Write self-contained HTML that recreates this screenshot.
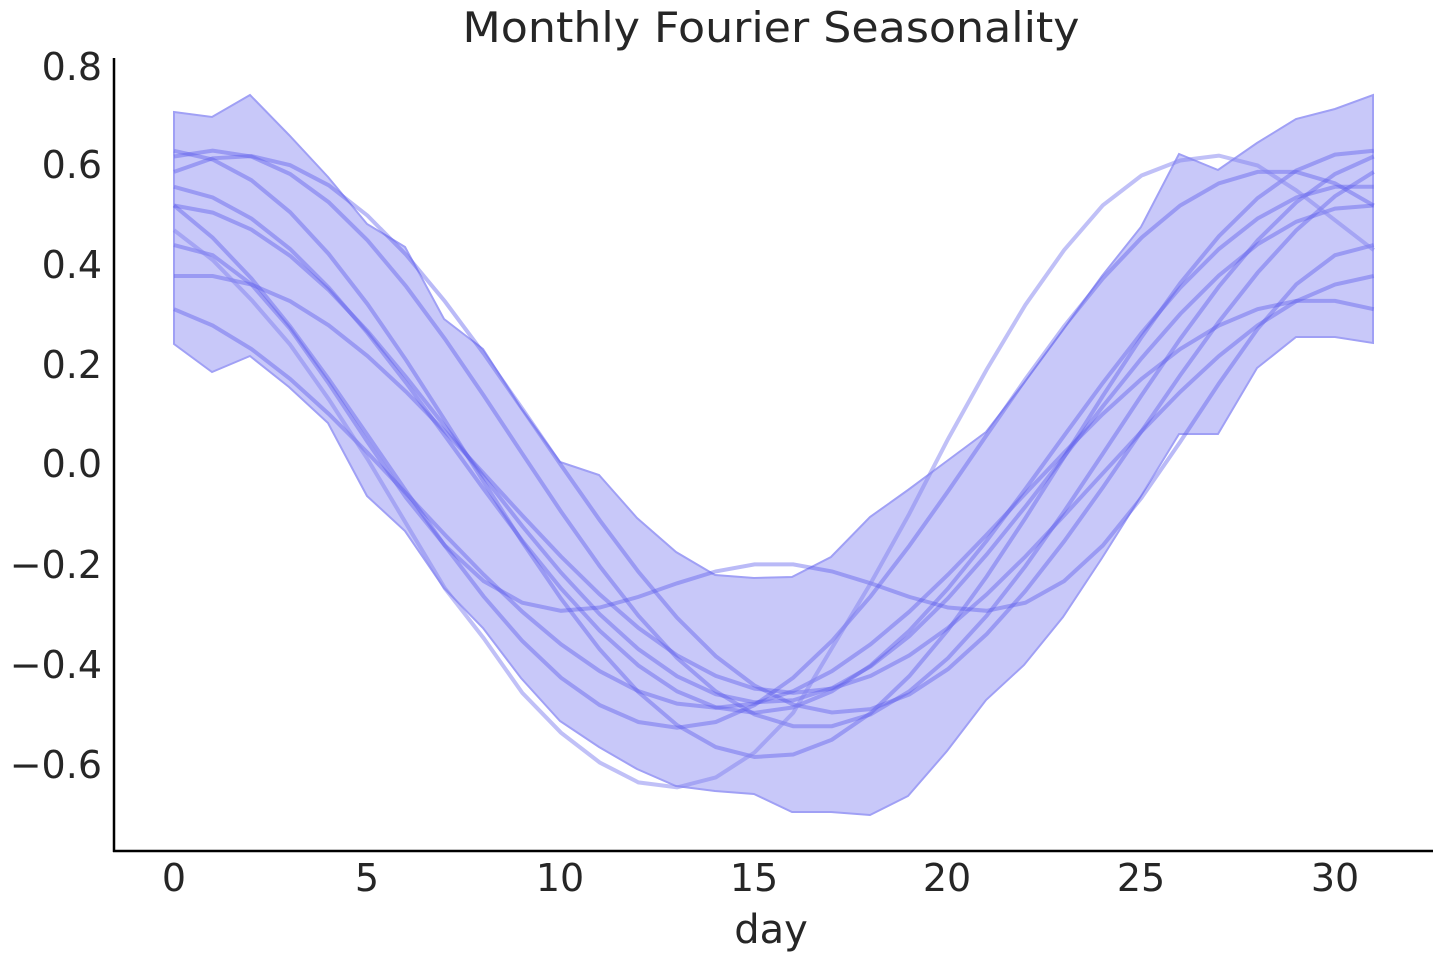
<!DOCTYPE html>
<html><head><meta charset="utf-8"><style>
html,body{margin:0;padding:0;background:#fff;}
svg{display:block;font-family:"DejaVu Sans","Liberation Sans",sans-serif;}
</style></head><body>
<svg id="s" width="1440" height="960" xmlns="http://www.w3.org/2000/svg">
<text x="771" y="42" font-size="42" text-anchor="middle" fill="#262626" textLength="617" lengthAdjust="spacingAndGlyphs">Monthly Fourier Seasonality</text>
<g id="plot"></g>
<line x1="114" y1="58" x2="114" y2="852" stroke="#000" stroke-width="2.5"/>
<line x1="113" y1="851" x2="1433" y2="851" stroke="#000" stroke-width="2.5"/>
<g font-size="38" fill="#262626" text-anchor="end">
<text x="102" y="80">0.8</text>
<text x="102" y="178">0.6</text>
<text x="102" y="278">0.4</text>
<text x="102" y="378">0.2</text>
<text x="102" y="477">0.0</text>
<text x="102" y="578">−0.2</text>
<text x="102" y="678">−0.4</text>
<text x="102" y="778">−0.6</text>
</g>
<g font-size="38" fill="#262626" text-anchor="middle">
<text x="174" y="891">0</text>
<text x="367" y="891">5</text>
<text x="560" y="891">10</text>
<text x="754" y="891">15</text>
<text x="947" y="891">20</text>
<text x="1141" y="891">25</text>
<text x="1335" y="891">30</text>
</g>
<text x="771" y="943" font-size="40" text-anchor="middle" fill="#262626">day</text>
</svg>
<script>
var up=[[174,112],[212,117],[250,95],[289,135],[328,177],[367,224],[405,247],[444,319],[483,349],[521,408],[560,462],[599,475],[637,518],[676,552],[715,575],[754,578],[792,577],[831,557],[870,517],[908,490],[947,461],[986,432],[1024,383],[1063,330],[1102,276],[1141,227],[1179,154],[1218,170],[1257,143],[1296,119],[1335,109],[1373,95]];
var lo=[[174,344],[212,372],[250,356],[289,387],[328,423],[367,496],[405,531],[444,588],[483,628],[521,678],[560,721],[599,747],[637,769],[676,786],[715,791],[754,794],[792,812],[831,812],[870,815],[908,796],[947,751],[986,700],[1024,665],[1063,617],[1102,558],[1141,496],[1179,434],[1218,434],[1257,368],[1296,337],[1335,337],[1373,343]];
var pts=up.concat(lo.slice().reverse()).map(p=>p.join(',')).join(' ');
var h='<polygon points="'+pts+'" fill="rgb(200,200,249)" stroke="rgb(160,160,245)" stroke-width="2"/>';
function X(d){return 174+d*38.7;}
function Y(v){return 464-v*497.5;}
var W=2*Math.PI/31;
var fs=[
 d=>0.05-0.58*Math.cos(W*(d-16.5)),
 d=>0.02-0.61*Math.cos(W*(d-15.3)),
 d=>0.03-0.56*Math.cos(W*(d-13)),
 d=>0.02-0.5*Math.cos(W*(d-15.3)),
 d=>0.06-0.56*Math.cos(W*(d-17.2)),
 d=>-0.05+0.32*Math.cos(W*d)+0.17*Math.cos(2*W*d),
 d=>0.03-0.53*Math.cos(W*(d-15)),
 d=>-0.04-0.42*Math.cos(W*(d-16)),
 d=>-0.08-0.41*Math.cos(W*(d-14))
];
fs.forEach(f=>{var a=[];for(var d=0;d<=31;d++)a.push(X(d).toFixed(1)+','+Y(f(d)).toFixed(1));
h+='<polyline points="'+a.join(' ')+'" fill="none" stroke="rgba(90,90,235,0.42)" stroke-width="4"/>';});
var pv=[0.47,0.41,0.33,0.24,0.13,0.01,-0.12,-0.25,-0.35,-0.46,-0.54,-0.60,-0.64,-0.65,-0.63,-0.58,-0.50,-0.37,-0.24,-0.1,0.05,0.19,0.32,0.43,0.52,0.58,0.61,0.62,0.60,0.55,0.49,0.43];
var a=pv.map((v,d)=>X(d).toFixed(1)+','+Y(v).toFixed(1));
h+='<polyline points="'+a.join(' ')+'" fill="none" stroke="rgba(130,130,240,0.5)" stroke-width="4"/>';
document.getElementById('plot').innerHTML=h;
</script>
</body></html>
